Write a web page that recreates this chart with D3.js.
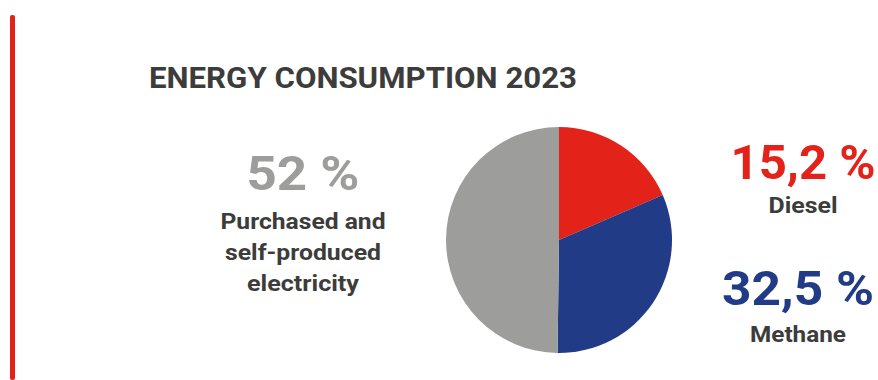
<!DOCTYPE html>
<html>
<head>
<meta charset="utf-8">
<script src="https://cdn.jsdelivr.net/npm/d3@7"></script>
<style>
  html, body { margin: 0; padding: 0; background: #fff; }
  svg { display: block; font-family: Roboto, "Open Sans", sans-serif; }
</style>
</head>
<body>
<svg id="chart" width="878" height="380"></svg>
<script>
// chart data
const title = "ENERGY CONSUMPTION 2023";
const categories = ["Diesel", "Methane", "Purchased and self-produced electricity"];
const percentLabels = ["15,2 %", "32,5 %", "52 %"];
// slice shares as they are drawn in the pie
const sliceShares = [18.5, 31.7, 49.8];
const nameLines = [["Diesel"], ["Methane"], ["Purchased and", "self-produced", "electricity"]];

const svg = d3.select("#chart");

const color = d3.scaleOrdinal()
    .domain(categories)
    .range(["#e3231a", "#213b87", "#9d9d9c"]);

// red rule at the left
svg.append("rect")
    .attr("x", 10).attr("y", 15)
    .attr("width", 5).attr("height", 365)
    .attr("rx", 2)
    .attr("fill", "#e3231a");

svg.append("text")
    .attr("x", 149).attr("y", 88)
    .attr("font-size", 30)
    .attr("font-weight", 700)
    .attr("fill", "#3c3c3b")
    .attr("textLength", 428)
    .attr("lengthAdjust", "spacingAndGlyphs")
    .text(title);

// pie
const pie = d3.pie().sort(null).value(d => d.value);
const arc = d3.arc().innerRadius(0).outerRadius(113);
const data = categories.map((c, i) => ({name: c, value: sliceShares[i]}));

svg.append("g")
    .attr("transform", "translate(559,240)")
  .selectAll("path")
  .data(pie(data))
  .join("path")
    .attr("d", arc)
    .attr("fill", d => color(d.data.name));

// labels: [center x, percent baseline, first name baseline, percent width]
const labelPos = [
  [803, 179, 213, 145],
  [798, 305, 342, 152],
  [303, 190, 229, 113]
];
// rendered widths of the name lines
const nameWidths = [[69], [96], [165, 156, 112]];

const labels = svg.append("g")
  .selectAll("g")
  .data(categories)
  .join("g");

labels.append("text")
    .attr("x", (d, i) => labelPos[i][0])
    .attr("y", (d, i) => labelPos[i][1])
    .attr("text-anchor", "middle")
    .attr("font-size", 48)
    .attr("font-weight", 700)
    .attr("fill", d => color(d))
    .attr("textLength", (d, i) => labelPos[i][3])
    .attr("lengthAdjust", "spacingAndGlyphs")
    .text((d, i) => percentLabels[i]);

labels.each(function(d, i) {
  d3.select(this).selectAll("text.name")
    .data(nameLines[i])
    .join("text")
      .attr("class", "name")
      .attr("x", labelPos[i][0])
      .attr("y", (t, j) => labelPos[i][2] + j * 31)
      .attr("text-anchor", "middle")
      .attr("font-size", 22)
      .attr("font-weight", 700)
      .attr("fill", "#3c3c3b")
      .attr("textLength", (t, j) => nameWidths[i][j])
      .attr("lengthAdjust", "spacingAndGlyphs")
      .text(t => t);
});
</script>
</body>
</html>
